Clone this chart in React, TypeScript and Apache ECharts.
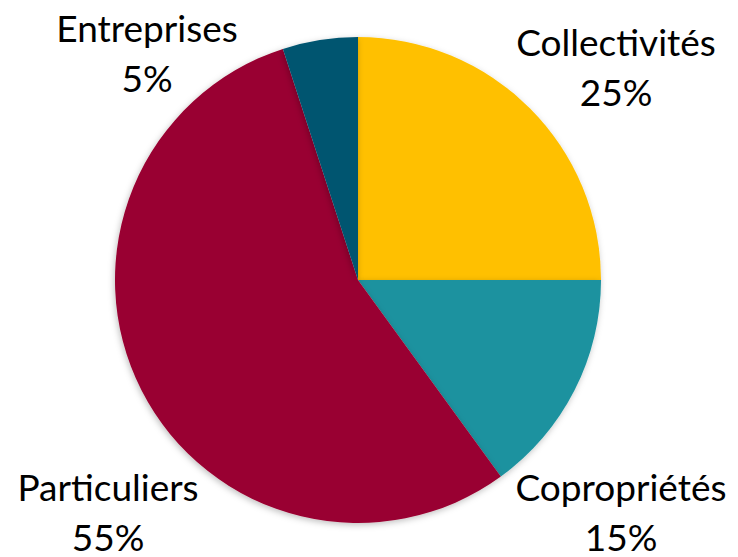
import React, { useEffect, useRef } from "react";
import * as echarts from "echarts";

const categories = ["Collectivités", "Copropriétés", "Particuliers", "Entreprises"];
const values = [25, 15, 55, 5];
const colors = ["#FFC000", "#1A929F", "#990030", "#005470"];

// label block centres (layout only)
const labelPos: [number, number][] = [
  [616, 66],
  [621, 511],
  [108, 511],
  [147, 52],
];

export default function App() {
  const ref = useRef<HTMLDivElement>(null);
  useEffect(() => {
    document.body.style.margin = "0";
    const chart = echarts.init(ref.current!, undefined, { renderer: "svg" });
    chart.setOption({
      animation: false,
      backgroundColor: "#ffffff",
      series: [
        {
          type: "pie",
          center: [358, 280],
          radius: [0, 243],
          startAngle: 90,
          clockwise: true,
          data: categories.map((c, i) => ({
            name: c,
            value: values[i],
            itemStyle: { color: colors[i] },
          })),
          itemStyle: {
            borderWidth: 0,
            shadowBlur: 6,
            shadowColor: "rgba(0,0,0,0.25)",
            shadowOffsetX: -1,
            shadowOffsetY: 2,
          },
          label: {
            show: true,
            position: "outside",
            formatter: (p: any) => `${p.name}\n${p.value}%`,
            fontFamily: "Lato",
            fontSize: 37,
            lineHeight: 50,
            color: "#000000",
            align: "center",
            overflow: "none",
          },
          labelLine: { show: false },
          labelLayout: (params: any) => {
            const pos = labelPos[params.dataIndex];
            return {
              x: pos[0],
              y: pos[1],
              align: "center",
              verticalAlign: "middle",
              hideOverlap: false,
              moveOverlap: false,
            };
          },
          emphasis: { disabled: true },
        },
      ],
    });
    return () => chart.dispose();
  }, []);
  return <div ref={ref} style={{ width: 738, height: 557 }} />;
}
